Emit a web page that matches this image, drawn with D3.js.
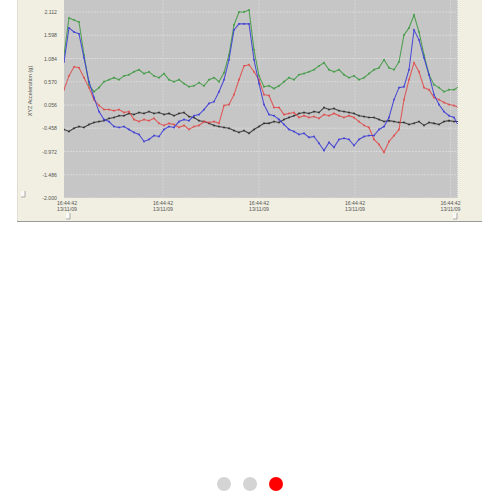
<!DOCTYPE html>
<html><head><meta charset="utf-8">
<script src="https://cdn.jsdelivr.net/npm/d3@7"></script>
<style>html,body{margin:0;padding:0;background:#fff;}svg{display:block;}</style>
</head><body>
<script>
const yTicks = [2.112, 1.598, 1.084, 0.570, 0.056, -0.458, -0.972, -1.486, -2.000];
const xTickIndex = [0.6, 19.8, 39, 58.2, 77.3];
const xTickTime = ["16:44:42","16:44:42","16:44:42","16:44:42","16:44:42"];
const xTickDate = ["13/11/09","13/11/09","13/11/09","13/11/09","13/11/09"];
const yTitle = "XYZ Acceleration (g)";

const green = [1.166,1.98,1.936,1.89,1.166,0.505,0.35,0.44,0.57,0.615,0.66,0.615,0.70,0.725,0.79,0.836,0.75,0.79,0.70,0.66,
  0.75,0.615,0.57,0.615,0.53,0.46,0.48,0.55,0.48,0.615,0.66,0.57,0.77,1.166,1.826,2.112,2.11,2.156,1.276,0.70,
  0.46,0.48,0.42,0.48,0.57,0.66,0.615,0.725,0.75,0.79,0.836,0.92,0.99,0.836,0.79,0.836,0.725,0.66,0.70,0.615,
  0.66,0.75,0.836,0.88,1.056,0.88,0.836,1.01,1.606,1.76,2.046,1.67,1.166,0.725,0.505,0.44,0.35,0.395,0.395,0.46];
const blue = [1.01,1.76,1.67,1.63,1.10,0.57,0.22,-0.09,-0.265,-0.31,-0.42,-0.44,-0.42,-0.485,-0.55,-0.595,-0.75,-0.705,-0.62,-0.64,
  -0.485,-0.42,-0.44,-0.31,-0.265,-0.29,-0.18,-0.155,-0.045,0.09,0.13,0.35,0.615,1.056,1.716,1.85,1.85,1.85,1.056,0.53,
  0.065,-0.155,-0.18,-0.265,-0.375,-0.485,-0.53,-0.595,-0.57,-0.66,-0.64,-0.79,-0.95,-0.77,-0.88,-0.705,-0.68,-0.705,-0.84,-0.705,
  -0.64,-0.62,-0.62,-0.485,-0.42,-0.22,0.175,0.44,0.46,0.836,1.716,1.496,1.10,0.725,0.285,0.065,-0.09,-0.18,-0.22,-0.42];
const red = [0.395,0.70,0.90,0.88,0.66,0.44,0.175,0.045,-0.045,-0.045,-0.07,-0.045,-0.11,-0.09,-0.265,-0.31,-0.265,-0.29,-0.24,-0.35,
  -0.395,-0.35,-0.375,-0.44,-0.395,-0.485,-0.42,-0.395,-0.31,-0.33,-0.31,-0.35,0.045,0.065,0.285,0.615,0.92,0.946,0.79,0.615,
  0.285,0.265,0.0,0.0,-0.155,-0.13,-0.11,-0.22,-0.18,-0.22,-0.2,-0.24,-0.155,-0.18,-0.13,-0.18,-0.22,-0.18,-0.22,-0.31,
  -0.395,-0.44,-0.705,-0.815,-0.99,-0.75,-0.62,-0.485,0.175,0.615,0.99,0.79,0.44,0.395,0.22,0.175,0.11,0.065,0.045,0.0];
const black = [-0.485,-0.53,-0.46,-0.42,-0.44,-0.375,-0.33,-0.31,-0.29,-0.24,-0.22,-0.18,-0.18,-0.13,-0.155,-0.11,-0.13,-0.09,-0.13,-0.11,
  -0.155,-0.13,-0.18,-0.13,-0.11,-0.2,-0.22,-0.29,-0.31,-0.35,-0.395,-0.42,-0.44,-0.46,-0.51,-0.55,-0.51,-0.57,-0.485,-0.42,
  -0.35,-0.35,-0.31,-0.33,-0.265,-0.22,-0.18,-0.13,-0.11,-0.13,-0.09,-0.11,0.0,-0.045,-0.02,-0.07,-0.09,-0.11,-0.13,-0.18,
  -0.2,-0.22,-0.22,-0.265,-0.31,-0.29,-0.31,-0.33,-0.33,-0.375,-0.35,-0.31,-0.395,-0.33,-0.35,-0.375,-0.31,-0.29,-0.31,-0.31];
const seriesColors = ["#3f9a42", "#3c3cd6", "#e04a4a", "#2e2e2e"];
const pagerDots = [0, 1, 2];
const activeDot = 2;

(function () {
const W = 500, H = 500;
const svg = d3.select("body").append("svg").attr("width", W).attr("height", H);

// panel
svg.append("rect").attr("x", 17).attr("y", 0).attr("width", 465).attr("height", 221).attr("fill", "#f1efe2");
svg.append("line").attr("x1", 17).attr("x2", 482).attr("y1", 221.5).attr("y2", 221.5).attr("stroke", "#9a9a9a").attr("stroke-width", 1.2);
svg.append("rect").attr("x", 17).attr("y", 0).attr("width", 0.8).attr("height", 221).attr("fill", "#dcdacc");

const pL = 64, pR = 458, pT = 0, pB = 198;
const x = d3.scaleLinear().domain([0, green.length - 1]).range([pL, pL + 5 * (green.length - 1)]);
const y = d3.scaleLinear().domain([-2.0, 2.112]).range([pB, 12]);

svg.append("rect").attr("x", pL).attr("y", pT).attr("width", pR - pL).attr("height", pB - pT).attr("fill", "#c6c6c6");
svg.append("defs").append("clipPath").attr("id", "clip").append("rect")
  .attr("x", pL).attr("y", pT).attr("width", pR - pL).attr("height", pB - pT);

// grid
const g = svg.append("g").attr("clip-path", "url(#clip)");
g.selectAll(".hg").data(yTicks).join("line")
  .attr("x1", pL).attr("x2", pR).attr("y1", d => y(d)).attr("y2", d => y(d))
  .attr("stroke", "#dedede").attr("stroke-width", 0.8).attr("stroke-dasharray", "2,1");
g.selectAll(".vg").data(xTickIndex.slice(1)).join("line")
  .attr("x1", d => x(d)).attr("x2", d => x(d)).attr("y1", pT).attr("y2", pB)
  .attr("stroke", "#d8d8d8").attr("stroke-width", 0.8).attr("stroke-dasharray", "2,1");
svg.append("line").attr("x1", pR - 0.5).attr("x2", pR - 0.5).attr("y1", pT).attr("y2", pB)
  .attr("stroke", "#e6e6e6").attr("stroke-width", 1).attr("stroke-dasharray", "1,1");

const line = d3.line().x((d, i) => x(i)).y(d => y(d));
const order = [[black, seriesColors[3]], [red, seriesColors[2]], [green, seriesColors[0]], [blue, seriesColors[1]]];
order.forEach(([s, col]) => {
  g.append("path").datum(s).attr("d", line).attr("fill", "none").attr("stroke", col).attr("stroke-width", 1.05).attr("opacity", 0.9);
  g.append("g").selectAll("rect").data(s).join("rect")
    .attr("x", (d, i) => x(i) - 0.9).attr("y", d => y(d) - 0.9).attr("width", 1.8).attr("height", 1.8)
    .attr("fill", col).attr("opacity", 0.75);
});

// y axis labels
svg.append("g").selectAll("text").data(yTicks).join("text")
  .attr("x", 57).attr("y", d => y(d) + 2).attr("text-anchor", "end")
  .attr("font-family", "Liberation Sans, Arial, sans-serif").attr("font-size", 5.2).attr("fill", "#555")
  .text(d => d.toFixed(3));
svg.append("text").attr("transform", "translate(32,91) rotate(-90)").attr("text-anchor", "middle")
  .attr("font-family", "Liberation Sans, Arial, sans-serif").attr("font-size", 5.5).attr("fill", "#555")
  .text(yTitle);

// x axis labels
const xl = svg.append("g").selectAll("g").data(xTickIndex).join("g")
  .attr("transform", d => `translate(${x(d)},0)`);
xl.append("text").attr("y", 205).attr("text-anchor", "middle")
  .attr("font-family", "Liberation Sans, Arial, sans-serif").attr("font-size", 5.2).attr("fill", "#555")
  .text((d, i) => xTickTime[i]);
xl.append("text").attr("y", 210.5).attr("text-anchor", "middle")
  .attr("font-family", "Liberation Sans, Arial, sans-serif").attr("font-size", 5.2).attr("fill", "#555")
  .text((d, i) => xTickDate[i]);

// small scroll markers
function marker(cx, cy) {
  svg.append("rect").attr("x", cx - 4).attr("y", cy - 6).attr("width", 4).attr("height", 6).attr("fill", "#f9f9f6");
  svg.append("path").attr("d", `M${cx - 4},${cy} h4 v-6`).attr("fill", "none").attr("stroke", "#8a8a8a").attr("stroke-width", 0.7);
}
marker(25, 197);
marker(70, 219);
marker(457, 219);

// pager dots
svg.append("g").selectAll("circle").data(pagerDots).join("circle")
  .attr("cx", d => 224 + d * 26).attr("cy", 484).attr("r", 7)
  .attr("fill", d => d === activeDot ? "#ff0000" : "#d4d4d4");
})();
</script>
</body></html>
